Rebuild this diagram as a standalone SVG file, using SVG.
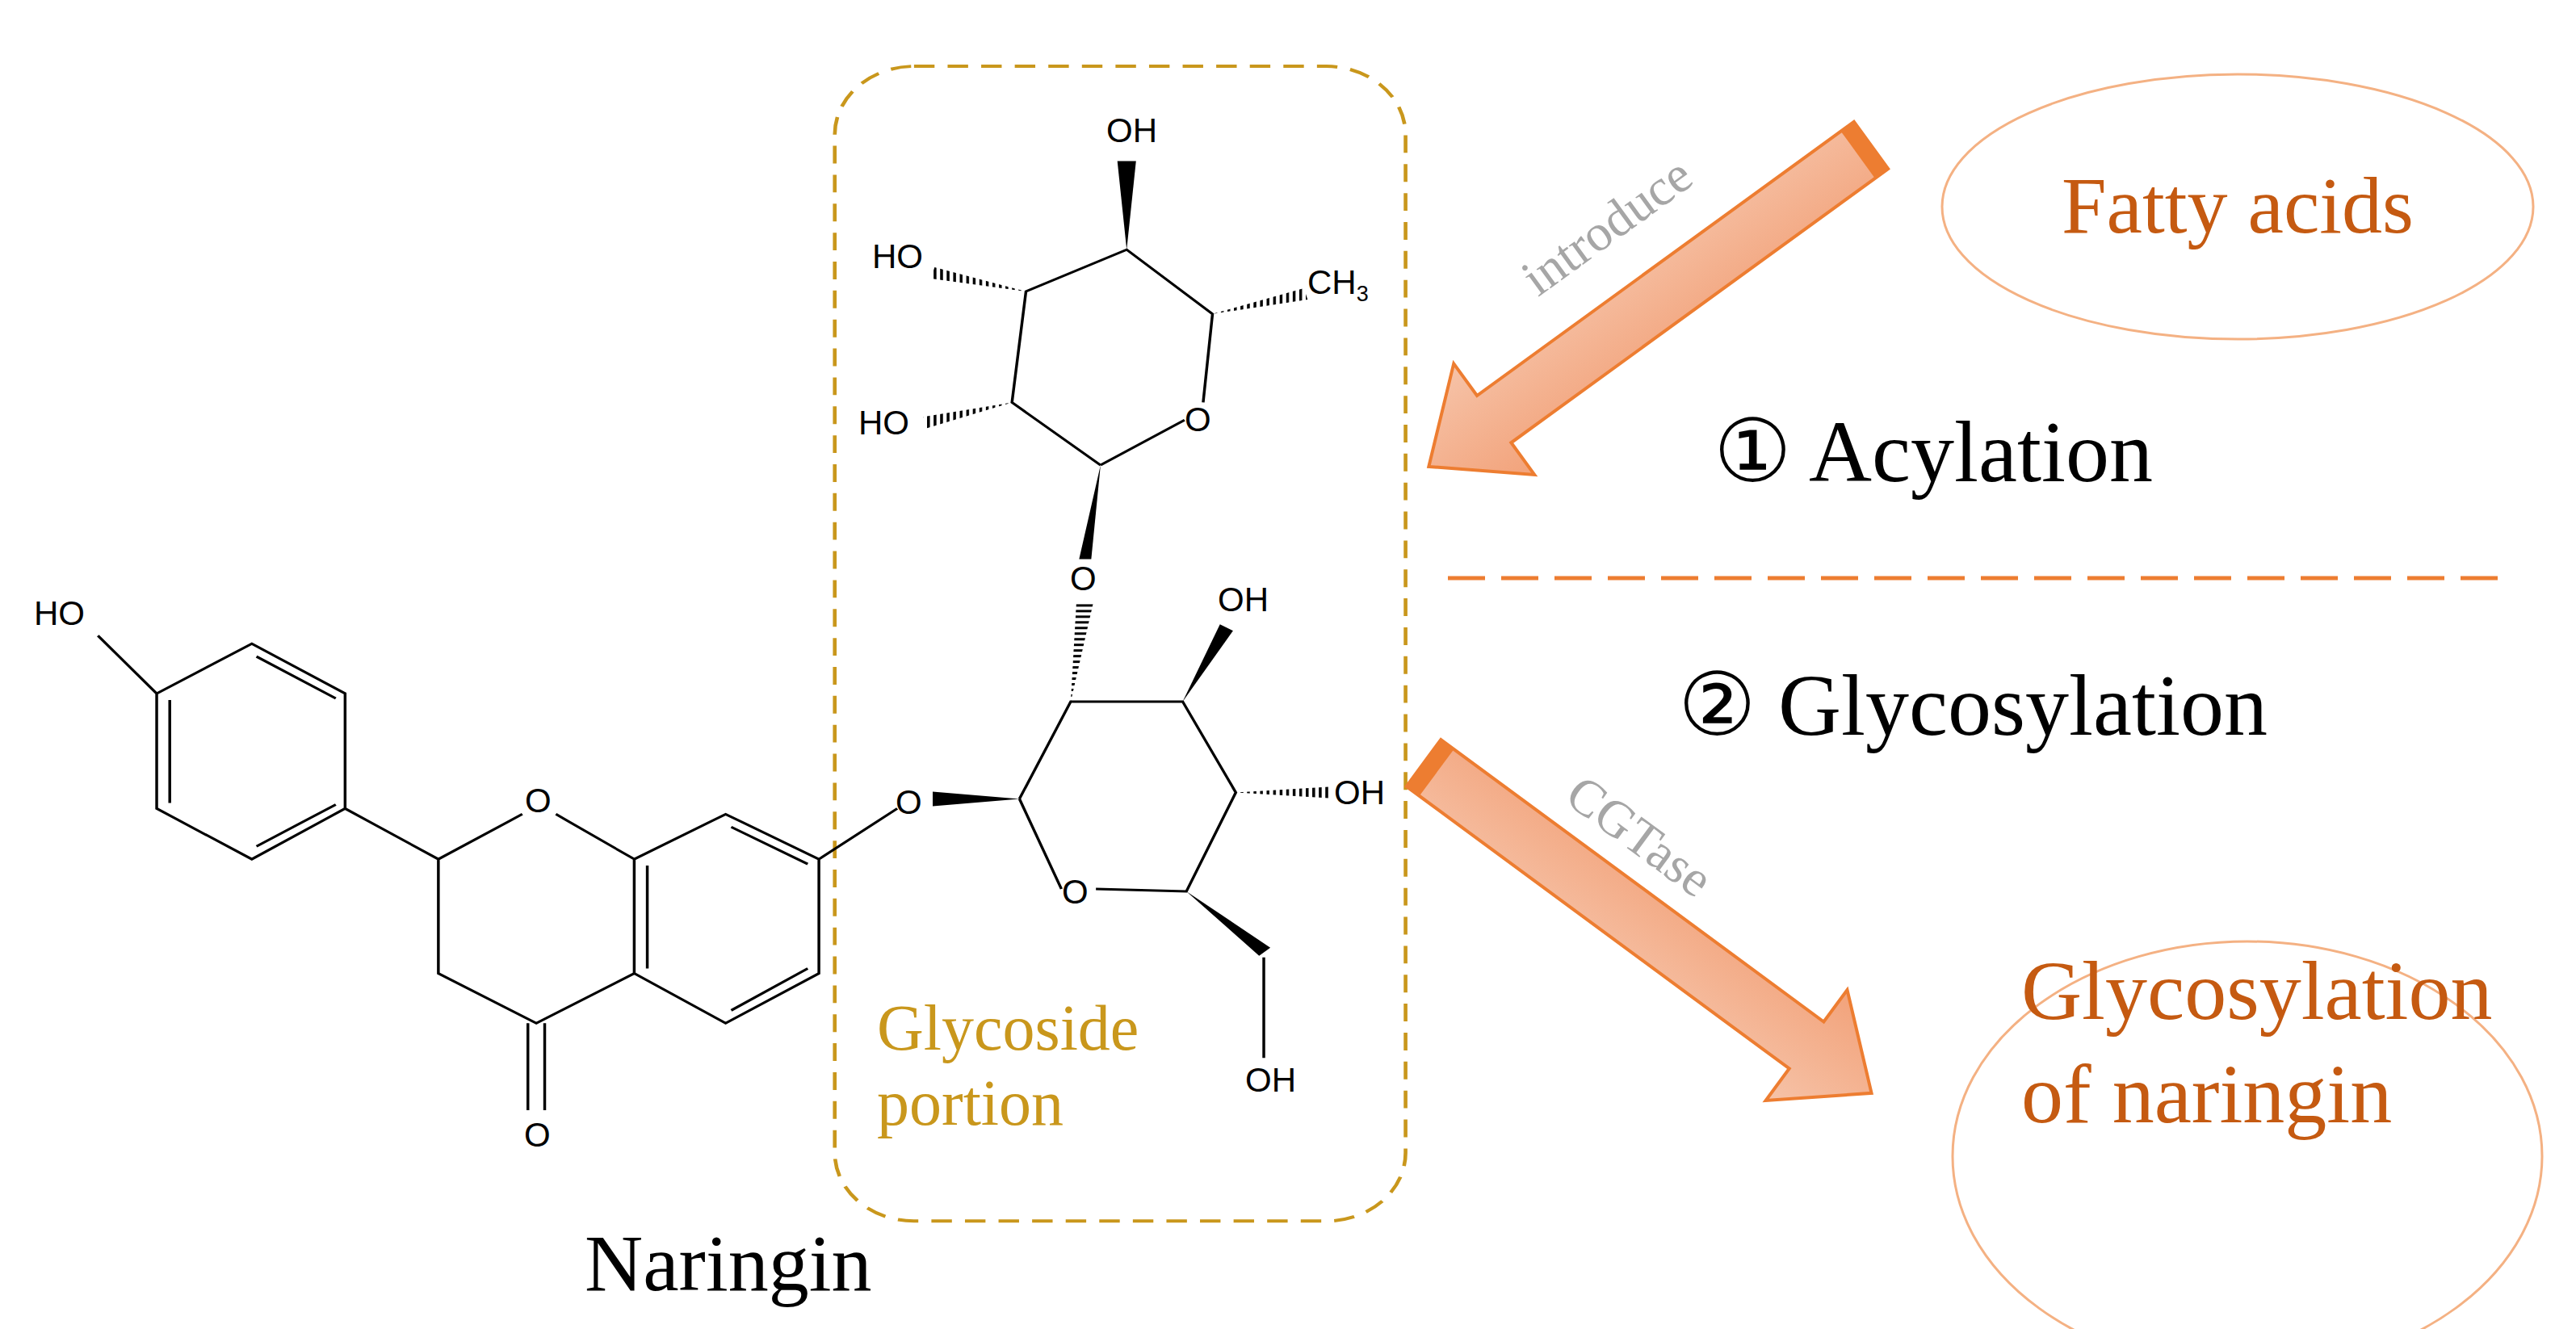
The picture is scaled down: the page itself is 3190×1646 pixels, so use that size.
<svg xmlns="http://www.w3.org/2000/svg" width="3190" height="1646" viewBox="0 0 3190 1646">
<style>
.b{stroke:#000;stroke-width:3;fill:none}
.at{font-family:"Liberation Sans",Arial,sans-serif;font-size:42px;fill:#000}
.s{font-family:"Liberation Serif","Times New Roman",serif}
.arr{fill:url(#g);stroke:#ED7D31;stroke-width:4}
</style>
<defs>
<linearGradient id="g" x1="0" y1="0" x2="0" y2="1"><stop offset="0" stop-color="#F2A27A"/><stop offset="1" stop-color="#F6C3A8"/></linearGradient>
<pattern id="hp" width="7" height="4" patternUnits="userSpaceOnUse"><rect width="3" height="4" fill="#000"/></pattern>
<pattern id="vp" width="4" height="7" patternUnits="userSpaceOnUse"><rect width="4" height="3" fill="#000"/></pattern>
</defs>
<rect width="3190" height="1646" fill="#fff"/>
<g id="molecule">
<g transform="translate(0,100) scale(1.155,0.996)">
<rect id="glycoside-box" x="895" y="-18" width="612" height="1436" rx="85" fill="none" stroke="#C9971C" stroke-width="4" stroke-dasharray="22,14"/>
<g id="bonds">
<path class="b" d="M105,690 L168,762 M168,762 L270,700 L370,762 L370,905 L270,968 L168,905 Z M182,770 L182,898 M275,716 L360,768 M275,952 L360,900 M370,905 L470,968 L560,912 M596,912 L680,968 L680,1110 L575,1172 L470,1110 L470,968 M694,976 L694,1104 M680,968 L778,912 L878,968 L878,1110 L778,1172 L680,1110 M784,928 L866,974 M784,1156 L866,1104 M878,968 L962,905 M566,1172 L566,1280 M584,1172 L584,1280"/>
<path class="b" d="M1093,893 L1148,772 L1268,772 L1325,885 L1272,1008 L1175,1005 M1138,1005 L1093,893 M1355,1090 L1355,1215 M1180,478 L1085,400 L1100,262 L1208,210 L1300,290 L1290,400 M1270,422 L1180,478"/>
<polygon points="1000,884 1093,893 1000,902" fill="#000"/>
<polygon points="1268,772 1308,676 1322,684" fill="#000"/>
<polygon points="1272,1008 1350,1088 1362,1078" fill="#000"/>
<polygon points="1180,478 1157,595 1170,595" fill="#000"/>
<polygon points="1208,210 1198,100 1218,100" fill="#000"/>
<polygon points="1148,772 1154,650 1172,650" fill="url(#vp)"/>
<polygon points="1325,885 1425,878 1425,892" fill="url(#hp)"/>
<polygon points="1100,262 1002,232 998,246" fill="url(#hp)"/>
<polygon points="1085,400 990,418 994,432" fill="url(#hp)"/>
<polygon points="1300,290 1398,258 1402,272" fill="url(#hp)"/>
</g>
</g>
<g id="atoms" class="at">
<text x="42" y="774">HO</text>
<text x="650" y="1006">O</text>
<text x="649" y="1420">O</text>
<text x="1109" y="1008">O</text>
<text x="1315" y="1119">O</text>
<text x="1325" y="731">O</text>
<text x="1467" y="534">O</text>
<text x="1508" y="757">OH</text>
<text x="1652" y="996">OH</text>
<text x="1542" y="1352">OH</text>
<text x="1370" y="176">OH</text>
<text x="1080" y="332">HO</text>
<text x="1063" y="538">HO</text>
<text x="1619" y="364">CH<tspan font-size="27" dy="9">3</tspan></text>
</g>
<g id="labels" class="s">
<text x="1086" y="1300" font-size="80" fill="#C9971C">Glycoside</text>
<text x="1086" y="1393" font-size="80" fill="#C9971C">portion</text>
<text x="724" y="1598" font-size="100" fill="#000">Naringin</text>
</g>
</g>
<g id="fatty-acids">
<ellipse cx="2771" cy="256" rx="366" ry="164" fill="none" stroke="#F4B183" stroke-width="3"/>
<text class="s" x="2771" y="288" font-size="100" fill="#C55A11" text-anchor="middle">Fatty acids</text>
</g>
<g id="glyco-product">
<ellipse cx="2783" cy="1432" rx="365" ry="266" fill="none" stroke="#F4B183" stroke-width="3"/>
<text class="s" x="2503" y="1262" font-size="104" fill="#C55A11">Glycosylation</text>
<text class="s" x="2503" y="1390" font-size="104" fill="#C55A11">of naringin</text>
</g>
<g id="steps" class="s" font-size="108" fill="#000">
<text x="2122" y="596">① Acylation</text>
<text x="2078" y="910">② Glycosylation</text>
</g>
<g id="connectors">
<line x1="1793" y1="716" x2="3098" y2="716" stroke="#ED7D31" stroke-width="5" stroke-dasharray="46,20"/>
<g transform="translate(2317,180) rotate(144)">
<polygon class="arr" points="0,-36 577,-36 577,-85 677,0 577,85 577,36 0,36"/>
<rect x="0" y="-36" width="20" height="72" fill="#ED7D31"/>
</g>
<g transform="translate(1763,945) rotate(36.4)">
<polygon class="arr" points="0,-36 589,-36 589,-85 689,0 589,85 589,36 0,36"/>
<rect x="0" y="-36" width="20" height="72" fill="#ED7D31"/>
</g>
<text class="s" x="1994" y="300" font-size="64" fill="#A6A6A6" text-anchor="middle" transform="rotate(-36 1994 286)">introduce</text>
<text class="s" x="2025" y="1055" font-size="64" fill="#A6A6A6" text-anchor="middle" transform="rotate(36.4 2025 1043)">CGTase</text>
</g>
</svg>
